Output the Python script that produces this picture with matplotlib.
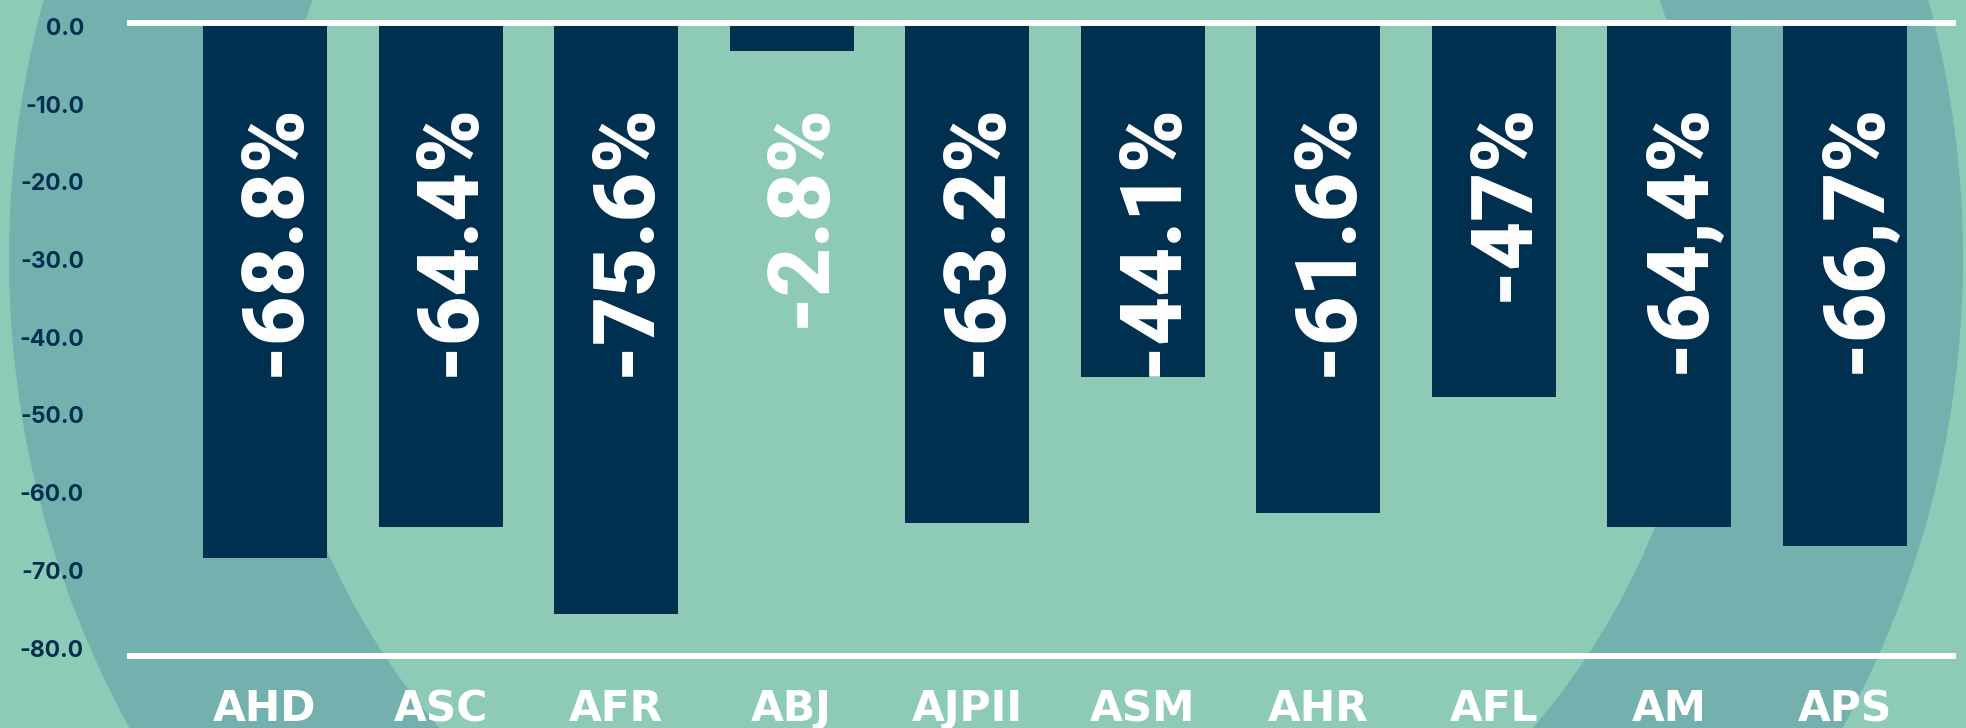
import numpy as np
import matplotlib
matplotlib.use("Agg")
import matplotlib.pyplot as plt
from matplotlib.patches import Circle

### Data ###
categories = ["AHD", "ASC", "AFR", "ABJ", "AJPII", "ASM", "AHR", "AFL", "AM", "APS"]
values = [-68.4, -64.4, -75.6, -3.2, -63.9, -45.1, -62.6, -47.7, -64.4, -66.9]
labels = ["-68.8%", "-64.4%", "-75.6%", "-2.8%", "-63.2%", "-44.1%",
          "-61.6%", "-47%", "-64,4%", "-66,7%"]
yticks = [0, -10, -20, -30, -40, -50, -60, -70, -80]

### Style ###
light = "#8DCBB7"
dark = "#74B0AE"
navy = "#003050"

W, H = 1966, 728
fig = plt.figure(figsize=(W / 100, H / 100), dpi=100, facecolor=light)

# background rings (pixel coords)
bg = fig.add_axes([0, 0, 1, 1])
bg.set_xlim(0, W)
bg.set_ylim(H, 0)
bg.axis("off")
bg.add_patch(Circle((986, 258), 977, color=dark, lw=0))
bg.add_patch(Circle((986, 258), 721, color=light, lw=0))

# main axes
left_px, right_px = 127, 1956
ax = fig.add_axes([left_px / W, 0, (right_px - left_px) / W, 1])
ax.patch.set_alpha(0)
step = 175.56
x0 = 265
ax.set_xlim((left_px - x0) / step, (right_px - x0) / step)
zero_px, ppu = 26.5, 7.77
ax.set_ylim(-(H - zero_px) / ppu, zero_px / ppu)

x = np.arange(len(categories))
ax.bar(x, values, width=124 / step, color=navy, zorder=2)

ax.axhline(0.45, color="white", lw=4.2, zorder=3)
ax.axhline(-81, color="white", lw=4.2, zorder=3)

# value labels inside bars
for xi, lab in zip(x, labels):
    ax.text(xi + 0.185, -9.7, lab, rotation=90, rotation_mode="anchor",
            ha="right", va="baseline", color="white", fontsize=61,
            family="Roboto", fontweight="black", zorder=4)

# category labels
for xi, cat in zip(x, categories):
    ax.text(xi, -89.4, cat, ha="center", va="baseline", color="white",
            fontsize=30.5, family="DejaVu Sans", fontweight="bold", zorder=4)

ax.set_xticks([])
ax.set_yticks(yticks)
ax.set_yticklabels([f"{v:.1f}" for v in yticks], color=navy, fontsize=16.5,
                   family="Inter", fontweight="bold")
ax.tick_params(axis="y", length=0, pad=31)
for s in ax.spines.values():
    s.set_visible(False)

fig.savefig("out.png", dpi=100, facecolor=light)
